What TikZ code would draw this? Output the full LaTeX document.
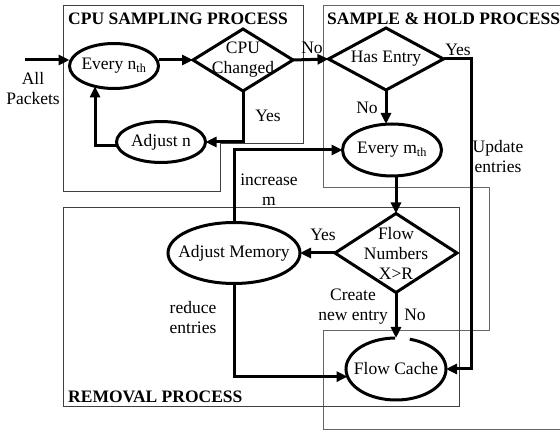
\documentclass[tikz,border=0pt]{standalone}
\usepackage{fontspec}
\setmainfont{Liberation Serif}
\usetikzlibrary{shapes.geometric,arrows.meta}
\begin{document}
\begin{tikzpicture}[x=1pt,y=-1pt,
  every node/.style={font=\fontsize{17.5}{20}\selectfont},
  shp/.style={draw, line width=3pt, inner sep=0pt, outer sep=0pt},
  ell/.style={shp, ellipse},
  dia/.style={shp, diamond},
  txt/.style={inner sep=0pt, align=center},
  ttl/.style={inner sep=0pt, anchor=west, font=\fontsize{17.5}{20}\selectfont\bfseries},
  frame/.style={draw=black!75, line width=1pt},
  conn/.style={line width=3pt, -{Triangle[length=11pt,width=10pt]}},
]
\clip (0,0) rectangle (560,435);
\fill[white] (0,0) rectangle (560,435);
% frames
\draw[frame] (63,6) -- (303,6) -- (303,144) -- (220,144) -- (220,192) -- (63,192) -- cycle;
\draw[frame, draw=black!60] (323,6) -- (566,6) -- (566,430) -- (323,430) -- (323,331) -- (489,331) -- (489,188) -- (323,188) -- cycle;
\draw[frame] (63,208) rectangle (459,407);
% titles
\node[ttl] (t1) at (68,19) {CPU SAMPLING PROCESS};
\node[ttl] (t2) at (327,19) {SAMPLE \& HOLD PROCESS};
\node[ttl] (t3) at (68,397) {REMOVAL PROCESS};
% shapes
\node[ell, minimum width=89pt, minimum height=45pt, label={[txt]center:Every n\textsubscript{th}}] (en) at (114,66) {};
\node[dia, minimum width=100pt, minimum height=62pt, label={[txt]center:CPU\\Changed}] (cpu) at (243,60) {};
\node[ell, minimum width=89pt, minimum height=41pt, label={[txt]center:Adjust n}] (an) at (161,142) {};
\node[dia, minimum width=115pt, minimum height=62pt, label={[txt]center:Has Entry}] (he) at (386,59) {};
\node[ell, minimum width=99pt, minimum height=52pt, label={[txt]center:Every m\textsubscript{th}}] (em) at (392,150) {};
\node[dia, minimum width=122pt, minimum height=79pt, label={[txt]center:Flow\\Numbers\\X>R}] (fn) at (396,253) {};
\node[ell, minimum width=132pt, minimum height=61pt, label={[txt]center:Adjust Memory}] (am) at (234,253) {};
\node[ellipse, inner sep=0pt, outer sep=0pt, minimum width=100pt, minimum height=62pt, label={[txt]center:Flow Cache}] (fc) at (396,369) {};
\draw[line width=3pt] (fc.center) ++(-74:50 and 31) arc[start angle=-74, end angle=269, x radius=50, y radius=31];
% connectors
\coordinate (ap) at (25,60);
\coordinate (ue) at (471,0);
\draw[conn] (ap) -- (ap -| en.west);
\draw[conn] (en.east |- cpu.west) -- (cpu.west);
\draw[conn] (cpu.south) |- (an.east);
\draw[conn] (an.185) -| (en.227);
\draw[conn] (cpu.east) -- (he.west);
\draw[conn] (he.east) -| (ue |- fc.east) -- (fc.east);
\draw[conn] (he.south) -- (he.south |- em.north);
\draw[conn] (fn.north |- em.south) -- (fn.north);
\draw[conn] (fn.west) -- (am.east);
\draw[conn] (fn.south) -- (fc.north);
\draw[conn] (am.south) |- (fc.189);
\draw[conn] (am.north) |- (em.west);
% labels
\node[txt] (lAll) at (33,89) {All\\Packets};
\node[txt] (lno1) at (312,48) {No};
\node[txt] (lyes1) at (268,116) {Yes};
\node[txt] (lyes2) at (458,50) {Yes};
\node[txt] (lno2) at (367,108) {No};
\node[txt] (lup) at (498,157) {Update\\entries};
\node[txt] (linc) at (269,190) {increase\\m};
\node[txt] (lyes3) at (323,235) {Yes};
\node[txt] (lcr) at (353,307) {Create\\new entry};
\node[txt] (lno3) at (415,315) {No};
\node[txt] (lred) at (193,318) {reduce\\entries};
\end{tikzpicture}
\end{document}
